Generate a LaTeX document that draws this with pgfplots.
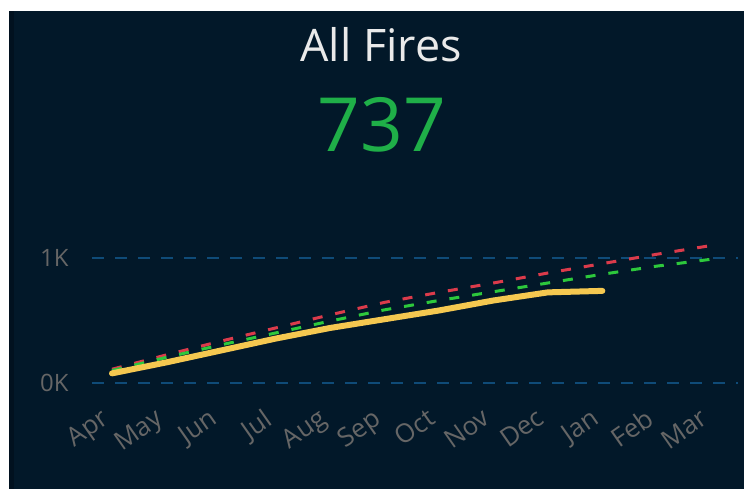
\documentclass[border=0pt]{standalone}
\usepackage{fontspec}
\setmainfont{Open Sans}
\usepackage{pgfplots}
\pgfplotsset{compat=1.18}

\definecolor{bg}{HTML}{021829}
\definecolor{bgedge}{HTML}{01111F}
\definecolor{titlegray}{HTML}{EAEAEA}
\definecolor{kpigreen}{HTML}{1FAF48}
\definecolor{ticktext}{HTML}{666666}
\definecolor{gridblue}{HTML}{0F4B78}
\definecolor{actual}{HTML}{F5C850}
\definecolor{upper}{HTML}{DB3B4B}
\definecolor{lower}{HTML}{2DC83C}

% month index 0 = Apr ... 11 = Mar, cumulative fire counts
\pgfplotstableread{
m upper lower
0 110 100
1 225 205
2 335 305
3 440 400
4 545 495
5 645 585
6 725 660
7 800 730
8 880 800
9 955 870
10 1030 935
11 1100 990
}\targets
\pgfplotstableread{
m actual
0 77
1 165
2 260
3 355
4 440
5 510
6 580
7 660
8 725
9 737
}\actuals

\begin{document}
\begin{tikzpicture}
\useasboundingbox (0,0) rectangle (744bp,489bp);
\fill[white] (0,0) rectangle (744bp,489bp);
\fill[bg] (9bp,0) rectangle (744bp,478bp);
\fill[bgedge] (9bp,0) rectangle (14bp,478bp);

\node[text=titlegray, font=\fontsize{45}{50}\selectfont] at (381bp,444bp) {All Fires};
\node[text=kpigreen, font=\fontsize{75}{80}\selectfont] at (382bp,364bp) {737};

\begin{axis}[
  at={(92bp,106bp)}, anchor=south west,
  scale only axis, width=646bp, height=143.75bp,
  xmin=-0.367, xmax=11.49, ymin=0, ymax=1150,
  clip=false,
  axis line style={draw=none},
  major tick length=0pt,
  ytick={0,1000}, yticklabels={0K,1K},
  xtick={0,...,11},
  xticklabels={Apr,May,Jun,Jul,Aug,Sep,Oct,Nov,Dec,Jan,Feb,Mar},
  ymajorgrids,
  grid style={gridblue, line width=2bp, dash pattern=on 12bp off 11bp},
  tick label style={text=ticktext, font=\fontsize{24}{26}\selectfont},
  yticklabel style={anchor=east, xshift=-20bp},
  xticklabel style={font=\fontsize{26}{28}\selectfont, rotate=35, anchor=north east, xshift=-21bp, yshift=-9bp},
]
\addplot[upper, line width=3bp, dash pattern=on 10bp off 13bp] table[x=m, y=upper] {\targets};
\addplot[lower, line width=3bp, dash pattern=on 10bp off 13bp] table[x=m, y=lower] {\targets};
\addplot[actual, line width=6bp, line cap=round, line join=round] table[x=m, y=actual] {\actuals};
\end{axis}
\end{tikzpicture}
\end{document}
